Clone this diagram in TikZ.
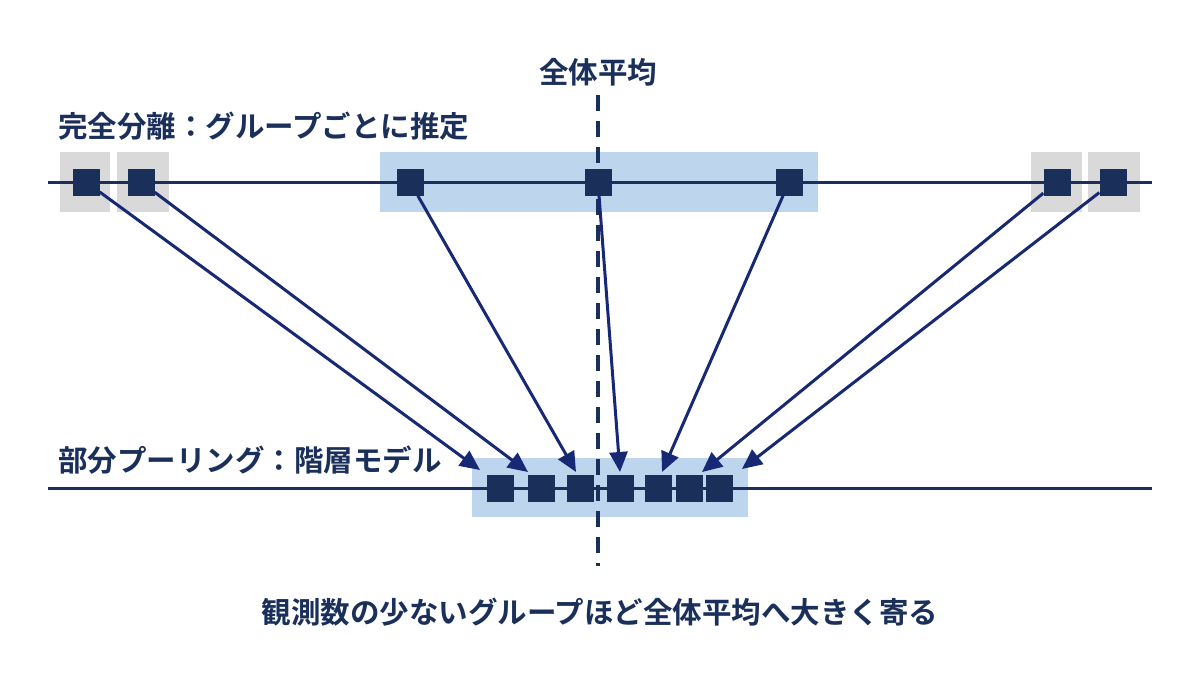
\documentclass[tikz,border=0pt]{standalone}
\usepackage{fontspec}
\setmainfont{Noto Sans CJK JP}[BoldFont={* Bold}]
\usetikzlibrary{arrows.meta}
\definecolor{navy}{HTML}{1B2F5B}
\definecolor{lightblue}{HTML}{BDD6EE}
\definecolor{lightgray}{HTML}{D9D9D9}
\tikzset{
  grp/.style={fill=navy, minimum size=27pt, inner sep=0pt},
  lbl/.style={text=navy, font=\bfseries\fontsize{29.5}{34}\selectfont, inner sep=0pt},
  shrink/.style={-{Triangle[length=20pt,width=18pt]}, draw=navy!85!blue, line width=3pt},
}
\begin{document}
\begin{tikzpicture}[x=1pt,y=-1pt]
  \useasboundingbox (0,0) rectangle (1200,675);
  % Hintergrund-Boxen
  \fill[lightgray] (60,152) rectangle (110,212);
  \fill[lightgray] (117,152) rectangle (169,212);
  \fill[lightgray] (1031,152) rectangle (1082,212);
  \fill[lightgray] (1088,152) rectangle (1140,212);
  \fill[lightblue] (380,152) rectangle (818,212);
  \fill[lightblue] (472,458) rectangle (748,517);
  % Linien
  \draw[navy, line width=3pt] (48,182) -- (1152,182);
  \draw[navy, line width=3pt] (48,488) -- (1152,488);
  \draw[navy, line width=4pt, dash pattern=on 16pt off 10pt] (598,95) -- (598,566);
  % Texte
  \node[lbl] (mean) at (598,72) {全体平均};
  \node[lbl, anchor=west] (sep) at (58,126) {完全分離：グループごとに推定};
  \node[lbl, anchor=west] (pool) at (58,460) {部分プーリング：階層モデル};
  \node[lbl] (note) at (600,612) {観測数の少ないグループほど全体平均へ大きく寄る};
  % Gruppen
  \foreach \n/\x in {1/86,2/141,3/410,4/598,5/789,6/1057,7/1113}
    \node[grp] (t\n) at (\x,182) {};
  \foreach \n/\x in {1/500,2/541,3/580,4/620,5/658,6/689,7/719}
    \node[grp] (b\n) at (\x,488) {};
  % Pfeilspitzen
  \foreach \n/\x/\y in {1/480/470,2/528/472,3/576/472,4/620/472,5/662/472,6/702/472,7/742/469}
    \coordinate (e\n) at (\x,\y);
  \foreach \n in {1,...,7}
    \draw[shrink] (t\n) -- (e\n);
\end{tikzpicture}
\end{document}
